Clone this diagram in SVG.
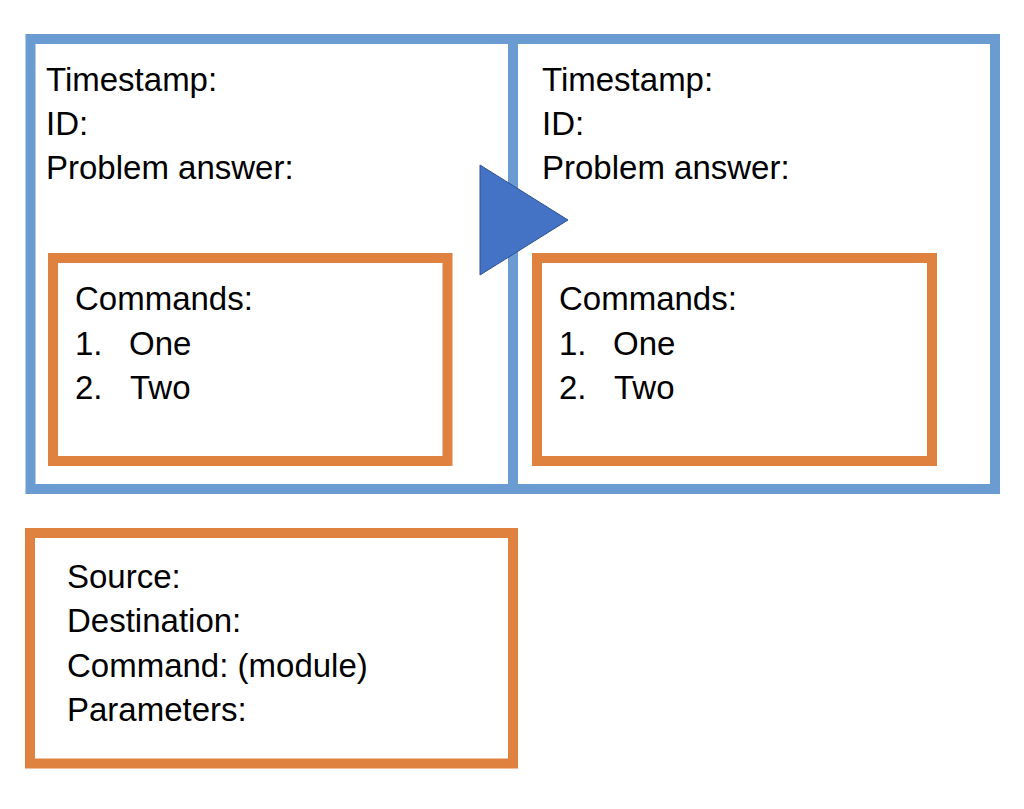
<svg xmlns="http://www.w3.org/2000/svg" width="1024" height="809" viewBox="0 0 1024 809">
<style>
  .blue { fill: none; stroke: #6A9BD1; stroke-width: 10; }
  .orange { fill: none; stroke: #E0823F; stroke-width: 10; }
  .t { font-family: "Liberation Sans", Arial, sans-serif; font-size: 33px; fill: #000; }
  .arrow { fill: #4472C4; stroke: #2F528F; stroke-width: 1; }
</style>
<rect x="0" y="0" width="1024" height="809" fill="#ffffff"/>
<g id="record-left">
  <rect class="blue" x="30.5" y="39" width="482.5" height="450"/>
  <text class="t" x="46" y="91">Timestamp:</text>
  <text class="t" x="46" y="135">ID:</text>
  <text class="t" x="46" y="179">Problem answer:</text>
</g>
<g id="record-right">
  <rect class="blue" x="513" y="39" width="482" height="450"/>
  <text class="t" x="542" y="91">Timestamp:</text>
  <text class="t" x="542" y="135">ID:</text>
  <text class="t" x="542" y="179">Problem answer:</text>
</g>
<g id="commands-left">
  <rect class="orange" x="53" y="258" width="394.5" height="203"/>
  <text class="t" x="75" y="310">Commands:</text>
  <text class="t" x="75" y="355">1.</text>
  <text class="t" x="129" y="355">One</text>
  <text class="t" x="75" y="399">2.</text>
  <text class="t" x="130" y="399">Two</text>
</g>
<g id="commands-right">
  <rect class="orange" x="537" y="258" width="395" height="203"/>
  <text class="t" x="559" y="310">Commands:</text>
  <text class="t" x="559" y="355">1.</text>
  <text class="t" x="613" y="355">One</text>
  <text class="t" x="559" y="399">2.</text>
  <text class="t" x="614" y="399">Two</text>
</g>
<g id="command-detail">
  <rect class="orange" x="30" y="533" width="483" height="230.5"/>
  <text class="t" x="67" y="588">Source:</text>
  <text class="t" x="67" y="632">Destination:</text>
  <text class="t" x="67" y="677">Command: (module)</text>
  <text class="t" x="67" y="721">Parameters:</text>
</g>
<g id="connectors">
  <polygon class="arrow" points="480,165 568,220 480,275"/>
</g>
</svg>
